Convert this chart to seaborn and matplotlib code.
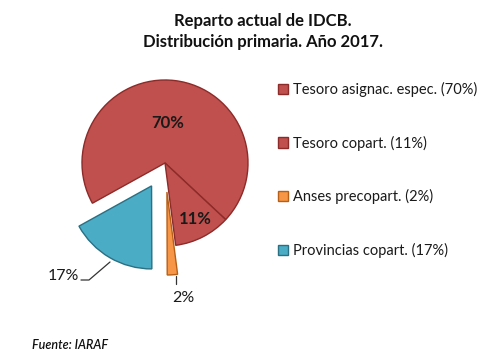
import matplotlib
matplotlib.use("Agg")
import matplotlib.pyplot as plt
import seaborn as sns

sns.set_theme(style="white")
plt.rcParams['font.family'] = ['Lato', 'DejaVu Sans']

# Data
categories = ["Tesoro asignac. espec.", "Tesoro copart.", "Anses precopart.", "Provincias copart."]
values = [70, 11, 2, 17]
pct_labels = ["70%", "11%", "2%", "17%"]
legend_labels = [f"{c} ({p})" for c, p in zip(categories, pct_labels)]

colors = ["#C0504D", "#C0504D", "#F79646", "#4BACC6"]
edges = ["#8C2B29", "#8C2B29", "#B85F17", "#2A6F82"]
explode = [0, 0, 0.35, 0.32]

W, H = 500, 358
fig = plt.figure(figsize=(W / 100, H / 100), dpi=100)

cx, cy, R = 165, 163, 83  # pixel centre (from top) and radius
ax_w = 330
ax = fig.add_axes([0, 0, ax_w / W, 1])

def px(x, y):
    return ((x - cx) / R, (cy - y) / R)

wedges, _ = ax.pie(values, colors=colors, explode=explode, startangle=-151,
                   counterclock=False, radius=1, center=(0, 0), frame=False,
                   wedgeprops=dict(linewidth=1.0))
for w, ec in zip(wedges, edges):
    w.set_edgecolor(ec)
ax.set_xlim(-cx / R, (ax_w - cx) / R)
ax.set_ylim(-(H - cy) / R, cy / R)
ax.set_aspect('auto')
ax.axis('off')

# Data labels
ax.text(*px(168, 123), pct_labels[0], ha='center', va='center', fontsize=12,
        fontweight='bold', color='#1a1a1a')
ax.text(*px(195, 219), pct_labels[1], ha='center', va='center', fontsize=12,
        fontweight='bold', color='#1a1a1a')
ax.text(*px(63, 276), pct_labels[3], ha='center', va='center', fontsize=11.5,
        color='#1a1a1a')
ax.text(*px(183, 298), pct_labels[2], ha='center', va='center', fontsize=11.5,
        color='#1a1a1a')
# leader lines
l1 = [px(81, 280), px(89, 280), px(110, 262)]
ax.plot([p[0] for p in l1], [p[1] for p in l1], color='#333333', lw=0.9)
l2 = [px(176, 276), px(176, 284)]
ax.plot([p[0] for p in l2], [p[1] for p in l2], color='#333333', lw=0.9)

# Legend
leg = fig.legend(wedges, legend_labels, loc='upper left',
                 bbox_to_anchor=(272 / W, 1 - 76 / H), frameon=False,
                 fontsize=10.5, handlelength=0.7, handleheight=0.7,
                 handletextpad=0.35, labelspacing=2.65, borderaxespad=0)
for t in leg.get_texts():
    t.set_color('#1a1a1a')

# Title
fig.text(263 / W, 1 - 21 / H, "Reparto actual de IDCB.", ha='center', va='center',
         fontsize=12, fontweight='bold', color='#111111')
fig.text(263 / W, 1 - 42 / H, "Distribución primaria. Año 2017.", ha='center',
         va='center', fontsize=12, fontweight='bold', color='#111111')

fig.text(32 / W, 1 - 345 / H, "Fuente: IARAF", ha='left', va='center', fontsize=9,
         style='italic', fontweight='semibold', color='#111111')

fig.savefig("out.png", dpi=100, facecolor='white')
